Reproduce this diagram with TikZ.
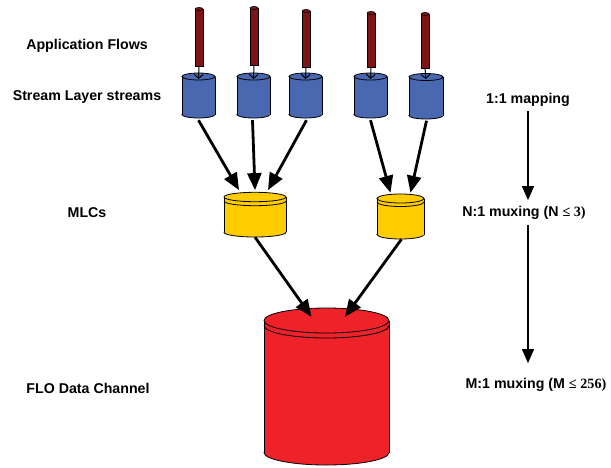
\documentclass[tikz,border=0pt]{standalone}
\usepackage{fontspec}
\setmainfont{Liberation Sans}
\newfontfamily\serifnum{Liberation Serif}
\usetikzlibrary{arrows.meta,calc}
\definecolor{cylblue}{HTML}{4A68B0}
\definecolor{cylyellow}{HTML}{FFCC00}
\definecolor{cylred}{HTML}{EE2229}
\definecolor{roddark}{HTML}{7F1416}
\tikzset{
  lbl/.style={font=\fontsize{14.2}{16}\selectfont\bfseries, inner sep=0pt},
  bigarrow/.style={line width=2.8pt, -{Triangle[length=17pt,width=14pt]}, shorten >=0pt},
  thinarrow/.style={line width=1pt, -{Straight Barb[length=4pt,width=9pt,line width=1pt]}},
  sidearrow/.style={line width=1.2pt, -{Triangle[length=14pt,width=12pt]}},
}
% \mycyl{name}{xc}{ytopcenter}{ybotcenter}{rx}{ry}{color}{lid offset}
\newcommand\mycyl[8]{%
  \filldraw[fill=#7, line width=0.8pt] (#2,#4) ellipse [x radius=#5, y radius=#6];
  \fill[#7] (#2-#5,#3) rectangle (#2+#5,#4);
  \draw[line width=0.8pt] (#2-#5,#3) -- (#2-#5,#4) (#2+#5,#3) -- (#2+#5,#4);
  \filldraw[fill=#7, line width=0.8pt] (#2,#3) ellipse [x radius=#5, y radius=#6];
  \ifdim #8pt>0pt
    \draw[line width=0.8pt] (#2-#5,#3+#8) arc[start angle=180, end angle=0, x radius=#5, y radius=#6];
  \fi
  \node[inner sep=0pt, minimum width=2*#5 pt, minimum height={(#4-#3+2*#6)*1pt}] (#1) at (#2,{(#3+#4)/2}) {};
}
% \myrod{name}{xc}{ytop}{ybot}
\newcommand\myrod[4]{%
  \filldraw[fill=roddark, line width=0.6pt] (#2-4,#3) rectangle (#2+4,#4);
  \filldraw[fill=roddark, line width=0.6pt] (#2,#3) ellipse [x radius=4, y radius=1.5];
  \coordinate (#1) at (#2,#4);
}
\begin{document}
\begin{tikzpicture}[x=1pt,y=-1pt]
\useasboundingbox (0,0) rectangle (611,467);

% labels left
\node[lbl] (lapp) at (87,46) {Application Flows};
\node[lbl] (lsls) at (87,97) {Stream Layer streams};
\node[lbl] (lmlc) at (87,213) {MLCs};
\node[lbl] (lflo) at (88,388) {FLO Data Channel};

% blue cylinders
\mycyl{b1}{198.5}{76.5}{114.5}{16.5}{3.5}{cylblue}{0}
\mycyl{b2}{253.5}{76.5}{114.5}{16.5}{3.5}{cylblue}{0}
\mycyl{b3}{305.5}{76.5}{114.5}{16.5}{3.5}{cylblue}{0}
\mycyl{b4}{370.5}{76.5}{114.5}{16.5}{3.5}{cylblue}{0}
\mycyl{b5}{426}{77}{115.5}{17}{3.5}{cylblue}{0}

% rods
\myrod{r1}{199}{9}{66}
\myrod{r2}{254}{8}{65}
\myrod{r3}{306}{11}{67}
\myrod{r4}{371}{13}{67}
\myrod{r5}{425}{14}{68}
\foreach \i in {1,...,5}{\draw[thinarrow] (r\i) -- (b\i.center |- 0,79);}

% yellow cylinders
\mycyl{y1}{255}{197}{232.3}{31}{4.7}{cylyellow}{4}
\mycyl{y2}{400.5}{198.5}{234.5}{23.5}{4.5}{cylyellow}{3.5}

% red cylinder
\mycyl{rc}{326.5}{320.5}{452.5}{62.5}{12.5}{cylred}{5}

% arrows blue -> yellow
\draw[bigarrow] (b1.south) ++(0,2) -- ($(y1.north)+(-16,-2)$);
\draw[bigarrow] (b2.south) ++(-1,2) -- ($(y1.north)+(0,-2)$);
\draw[bigarrow] (b3.south) ++(1,2) -- ($(y1.north)+(13,-2)$);
\draw[bigarrow] (b4.south) ++(0,2) -- ($(y2.north)+(-10,-1)$);
\draw[bigarrow] (b5.south) ++(0.5,1.5) -- ($(y2.north)+(10,-1)$);
% arrows yellow -> red
\draw[bigarrow] (y1.south) -- ($(rc.north)+(-15,9)$);
\draw[bigarrow] (y2.south) ++(1,0) -- ($(rc.north)+(18.5,9)$);

% right side labels
\node[lbl] (m1) at (528,100) {1:1 mapping};
\node[lbl] (m2) at (524,213) {N:1 muxing (N {\serifnum ≤ 3)}};
\node[lbl] (m3) at (536,385) {M:1 muxing (M {\serifnum ≤ 256)}};
\draw[sidearrow] (m1.south) ++(0,4) -- ($(m2.north)+(4,-6)$);
\draw[sidearrow] (m2.south) ++(4,5) -- ($(m3.north)+(-8,-15)$);
\end{tikzpicture}
\end{document}
